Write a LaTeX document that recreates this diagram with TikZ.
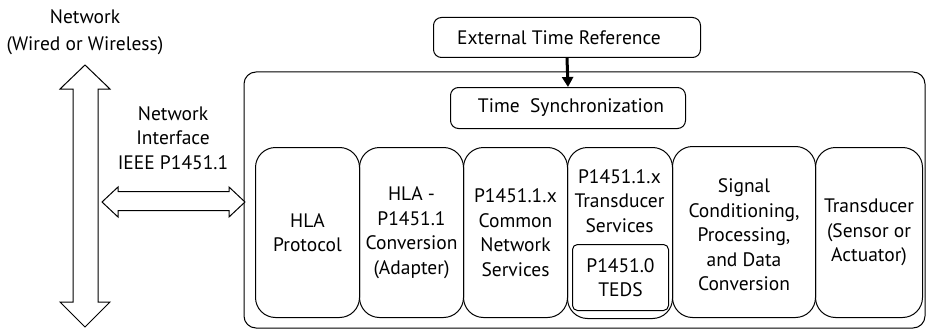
\documentclass[tikz,border=0pt]{standalone}
\usepackage{fontspec}
\setmainfont{PT Sans}
\usetikzlibrary{arrows.meta}
\begin{document}
\begin{tikzpicture}[x=1pt,y=-1pt,
  lbl/.style={font=\fontsize{19.5}{24.5}\selectfont, align=center, inner sep=0pt},
  col/.style={draw, line width=1pt, rounded corners=20pt, anchor=north west, inner sep=0pt, align=center, font=\fontsize{19.5}{24.5}\selectfont},
  flat/.style={draw, line width=1pt, rounded corners=8pt, anchor=north west, inner sep=0pt, align=center, font=\fontsize{19.5}{24.5}\selectfont},
  arrowshape/.style={draw, line width=1pt, fill=white, line join=miter}
]
\useasboundingbox (0,0) rectangle (926,329);
\begin{scope}
\clip (0,0) rectangle (926,329);
% big outer box
\draw[line width=1pt, rounded corners=12pt] (244,72) rectangle (925,328);
% vertical double arrow (network)
\draw[arrowshape] (85,65) -- (110,89) -- (98,89) -- (98,302) -- (110,302) -- (85,327) -- (60,302) -- (73,302) -- (73,89) -- (60,89) -- cycle;
\end{scope}
% horizontal double arrow (network interface)
\draw[arrowshape] (102,202) -- (118,187) -- (118,191.5) -- (229,191.5) -- (229,187) -- (245,202) -- (229,217) -- (229,210.5) -- (118,210.5) -- (118,217) -- cycle;

\node[lbl, font=\fontsize{19.5}{27}\selectfont] (net) at (85,32) {Network\\(Wired or Wireless)};
\node[lbl] (ni) at (173,138) {Network\\Interface\\IEEE P1451.1};

\node[flat, minimum width=267pt, minimum height=40pt] (ext) at (433,17) {External Time Reference\hspace*{16pt}};
\node[flat, minimum width=235pt, minimum height=41pt] (sync) at (450,87) {\hspace*{6pt}Time\ \ Synchronization};
\draw[line width=3pt, -{Triangle[length=10pt,width=11pt]}, shorten >=0pt] (ext.south) -- (sync.north);

\node[col, minimum width=104pt, minimum height=170pt] (hla) at (255,147) {HLA\\Protocol};
\node[col, minimum width=104pt, minimum height=170pt] (conv) at (359,147) {HLA -\\P1451.1\\Conversion\\(Adapter)};
\node[col, minimum width=104pt, minimum height=170pt] (cns) at (463,147) {P1451.1.x\\Common\\Network\\Services};
\node[col, minimum width=105pt, minimum height=171pt] (tsv) at (567,147) {};
\node[lbl, anchor=north] (tsvl) at (619.5,169) {P1451.1.x\\Transducer\\Services};
\node[flat, rounded corners=5pt, minimum width=96pt, minimum height=66pt] (teds) at (572,244) {P1451.0\\TEDS};
\node[col, minimum width=143pt, minimum height=171pt] (sig) at (672,146) {\rule{0pt}{20pt}Signal\\Conditioning,\\Processing,\\and Data\\Conversion};
\node[col, minimum width=107pt, minimum height=170pt] (trd) at (815,147) {Transducer\\(Sensor or\\Actuator)};
\end{tikzpicture}
\end{document}
